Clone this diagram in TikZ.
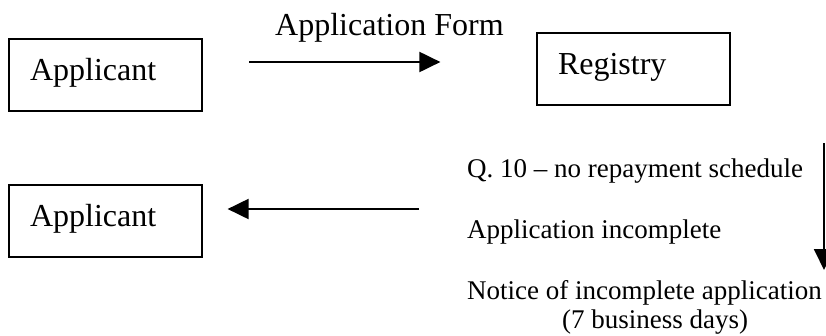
\documentclass[tikz,border=0pt]{standalone}
\usepackage{fontspec}
\setmainfont{Liberation Serif}
\usetikzlibrary{arrows.meta}
\begin{document}
\begin{tikzpicture}[x=1pt,y=-1pt,
  box/.style={draw, line width=1.2pt, inner xsep=21pt, inner ysep=0pt,
    text width=151pt, align=left, text height=41pt, text depth=31pt,
    font=\fontsize{32}{36}\selectfont},
  big/.style={inner sep=0pt, anchor=base west, font=\fontsize{32}{36}\selectfont},
  small/.style={inner sep=0pt, anchor=base west, font=\fontsize{27}{31}\selectfont},
  arr/.style={line width=2pt, -{Triangle[length=21pt,width=20pt]}}]
\useasboundingbox (0,0) rectangle (826,335);
\node[box] (app1) at (105.5,75) {Applicant};
\node[box] (reg) at (633.5,69) {Registry};
\node[box] (app2) at (105.5,221) {Applicant};
\node[big] (form) at (275,35) {Application Form};
\node[small] (q10) at (467,177) {Q. 10 – no repayment schedule};
\node[small] (inc) at (467,238) {Application incomplete};
\node[small] (notice) at (467,299) {Notice of incomplete application};
\node[small] (days) at (562,328) {(7 business days)};
\coordinate (s1) at (249,62);
\coordinate (e1) at (app1.east |- s1);
\draw[arr] (s1) -- ([xshift=-96pt]reg.west |- s1);
\coordinate (s2) at (419,209);
\draw[arr] (s2) -- ([xshift=25pt]app2.east |- s2);
\coordinate (s3) at (824,143);
\coordinate (e3) at (824,270);
\draw[arr] (s3) -- (e3);
\end{tikzpicture}
\end{document}
